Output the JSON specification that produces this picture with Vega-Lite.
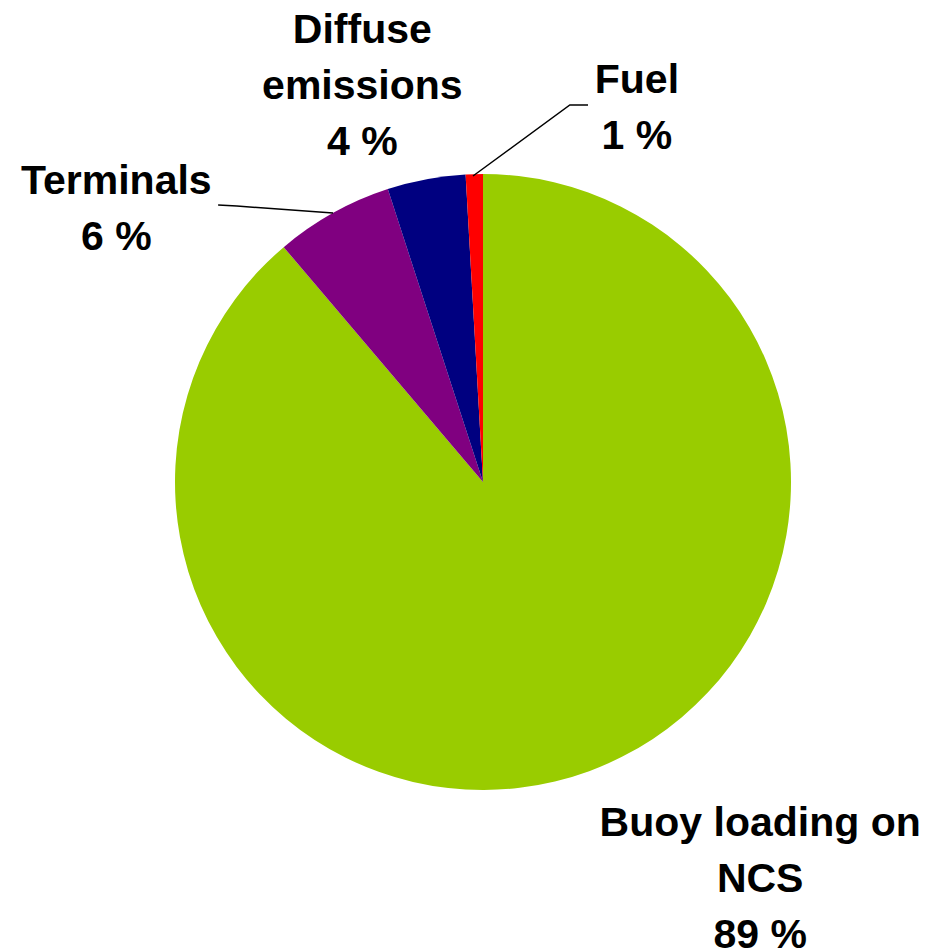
{
  "$schema": "https://vega.github.io/schema/vega-lite/v6.json",
  "width": 892,
  "height": 940,
  "autosize": {"type": "none"},
  "padding": {"left": 37, "top": 12, "right": 0, "bottom": 0},
  "background": "white",
  "config": {"view": {"stroke": null}},
  "datasets": {
    "shares": [
      {"cat": "Buoy loading on NCS", "share": 88.8, "ord": 1, "label": "Buoy loading on\nNCS\n89 %"},
      {"cat": "Terminals", "share": 6.2, "ord": 2, "label": "Terminals\n6 %"},
      {"cat": "Diffuse emissions", "share": 4.1, "ord": 3, "label": "Diffuse\nemissions\n4 %"},
      {"cat": "Fuel", "share": 0.9, "ord": 4, "label": "Fuel\n1 %"}
    ],
    "leaders": [
      {"id": "Terminals", "seq": 1, "px": -0.860, "py": 0.899},
      {"id": "Terminals", "seq": 2, "px": -0.799, "py": 0.896},
      {"id": "Terminals", "seq": 3, "px": -0.487, "py": 0.873},
      {"id": "Fuel", "seq": 1, "px": 0.341, "py": 1.224},
      {"id": "Fuel", "seq": 2, "px": 0.282, "py": 1.224},
      {"id": "Fuel", "seq": 3, "px": -0.0325, "py": 0.9935}
    ]
  },
  "layer": [
    {
      "data": {"name": "shares"},
      "mark": {"type": "arc", "outerRadius": 308},
      "encoding": {
        "theta": {"field": "share", "type": "quantitative", "stack": true},
        "order": {"field": "ord", "type": "quantitative"},
        "color": {
          "field": "cat",
          "type": "nominal",
          "scale": {
            "domain": ["Buoy loading on NCS", "Terminals", "Diffuse emissions", "Fuel"],
            "range": ["#99CC00", "#800080", "#000080", "#FF0000"]
          },
          "legend": null
        }
      }
    },
    {
      "data": {"name": "leaders"},
      "mark": {"type": "line", "color": "black", "strokeWidth": 1.5},
      "encoding": {
        "x": {"field": "px", "type": "quantitative", "scale": {"domain": [-1.44805, 1.44805], "nice": false, "zero": false}, "axis": null},
        "y": {"field": "py", "type": "quantitative", "scale": {"domain": [-1.52597, 1.52597], "nice": false, "zero": false}, "axis": null},
        "detail": {"field": "id", "type": "nominal"},
        "order": {"field": "seq", "type": "quantitative"}
      }
    },
    {
      "data": {"name": "shares"},
      "mark": {"type": "text", "radius": 340, "dx": 160, "dy": 35, "font": "Liberation Sans", "fontSize": 41, "fontWeight": "bold", "lineHeight": 56, "align": "center", "baseline": "alphabetic", "lineBreak": "\n", "color": "black"},
      "encoding": {
        "theta": {"field": "share", "type": "quantitative", "stack": true},
        "order": {"field": "ord", "type": "quantitative"},
        "text": {"condition": {"test": "datum.cat === 'Buoy loading on NCS'", "field": "label"}, "value": ""}
      }
    },
    {
      "data": {"name": "shares"},
      "mark": {"type": "text", "radius": 340, "dx": -201, "dy": 9, "font": "Liberation Sans", "fontSize": 41, "fontWeight": "bold", "lineHeight": 56, "align": "center", "baseline": "alphabetic", "lineBreak": "\n", "color": "black"},
      "encoding": {
        "theta": {"field": "share", "type": "quantitative", "stack": true},
        "order": {"field": "ord", "type": "quantitative"},
        "text": {"condition": {"test": "datum.cat === 'Terminals'", "field": "label"}, "value": ""}
      }
    },
    {
      "data": {"name": "shares"},
      "mark": {"type": "text", "radius": 340, "dx": -58, "dy": -105, "font": "Liberation Sans", "fontSize": 41, "fontWeight": "bold", "lineHeight": 56, "align": "center", "baseline": "alphabetic", "lineBreak": "\n", "color": "black"},
      "encoding": {
        "theta": {"field": "share", "type": "quantitative", "stack": true},
        "order": {"field": "ord", "type": "quantitative"},
        "text": {"condition": {"test": "datum.cat === 'Diffuse emissions'", "field": "label"}, "value": ""}
      }
    },
    {
      "data": {"name": "shares"},
      "mark": {"type": "text", "radius": 340, "dx": 163.5, "dy": -49, "font": "Liberation Sans", "fontSize": 41, "fontWeight": "bold", "lineHeight": 56, "align": "center", "baseline": "alphabetic", "lineBreak": "\n", "color": "black"},
      "encoding": {
        "theta": {"field": "share", "type": "quantitative", "stack": true},
        "order": {"field": "ord", "type": "quantitative"},
        "text": {"condition": {"test": "datum.cat === 'Fuel'", "field": "label"}, "value": ""}
      }
    }
  ]
}
